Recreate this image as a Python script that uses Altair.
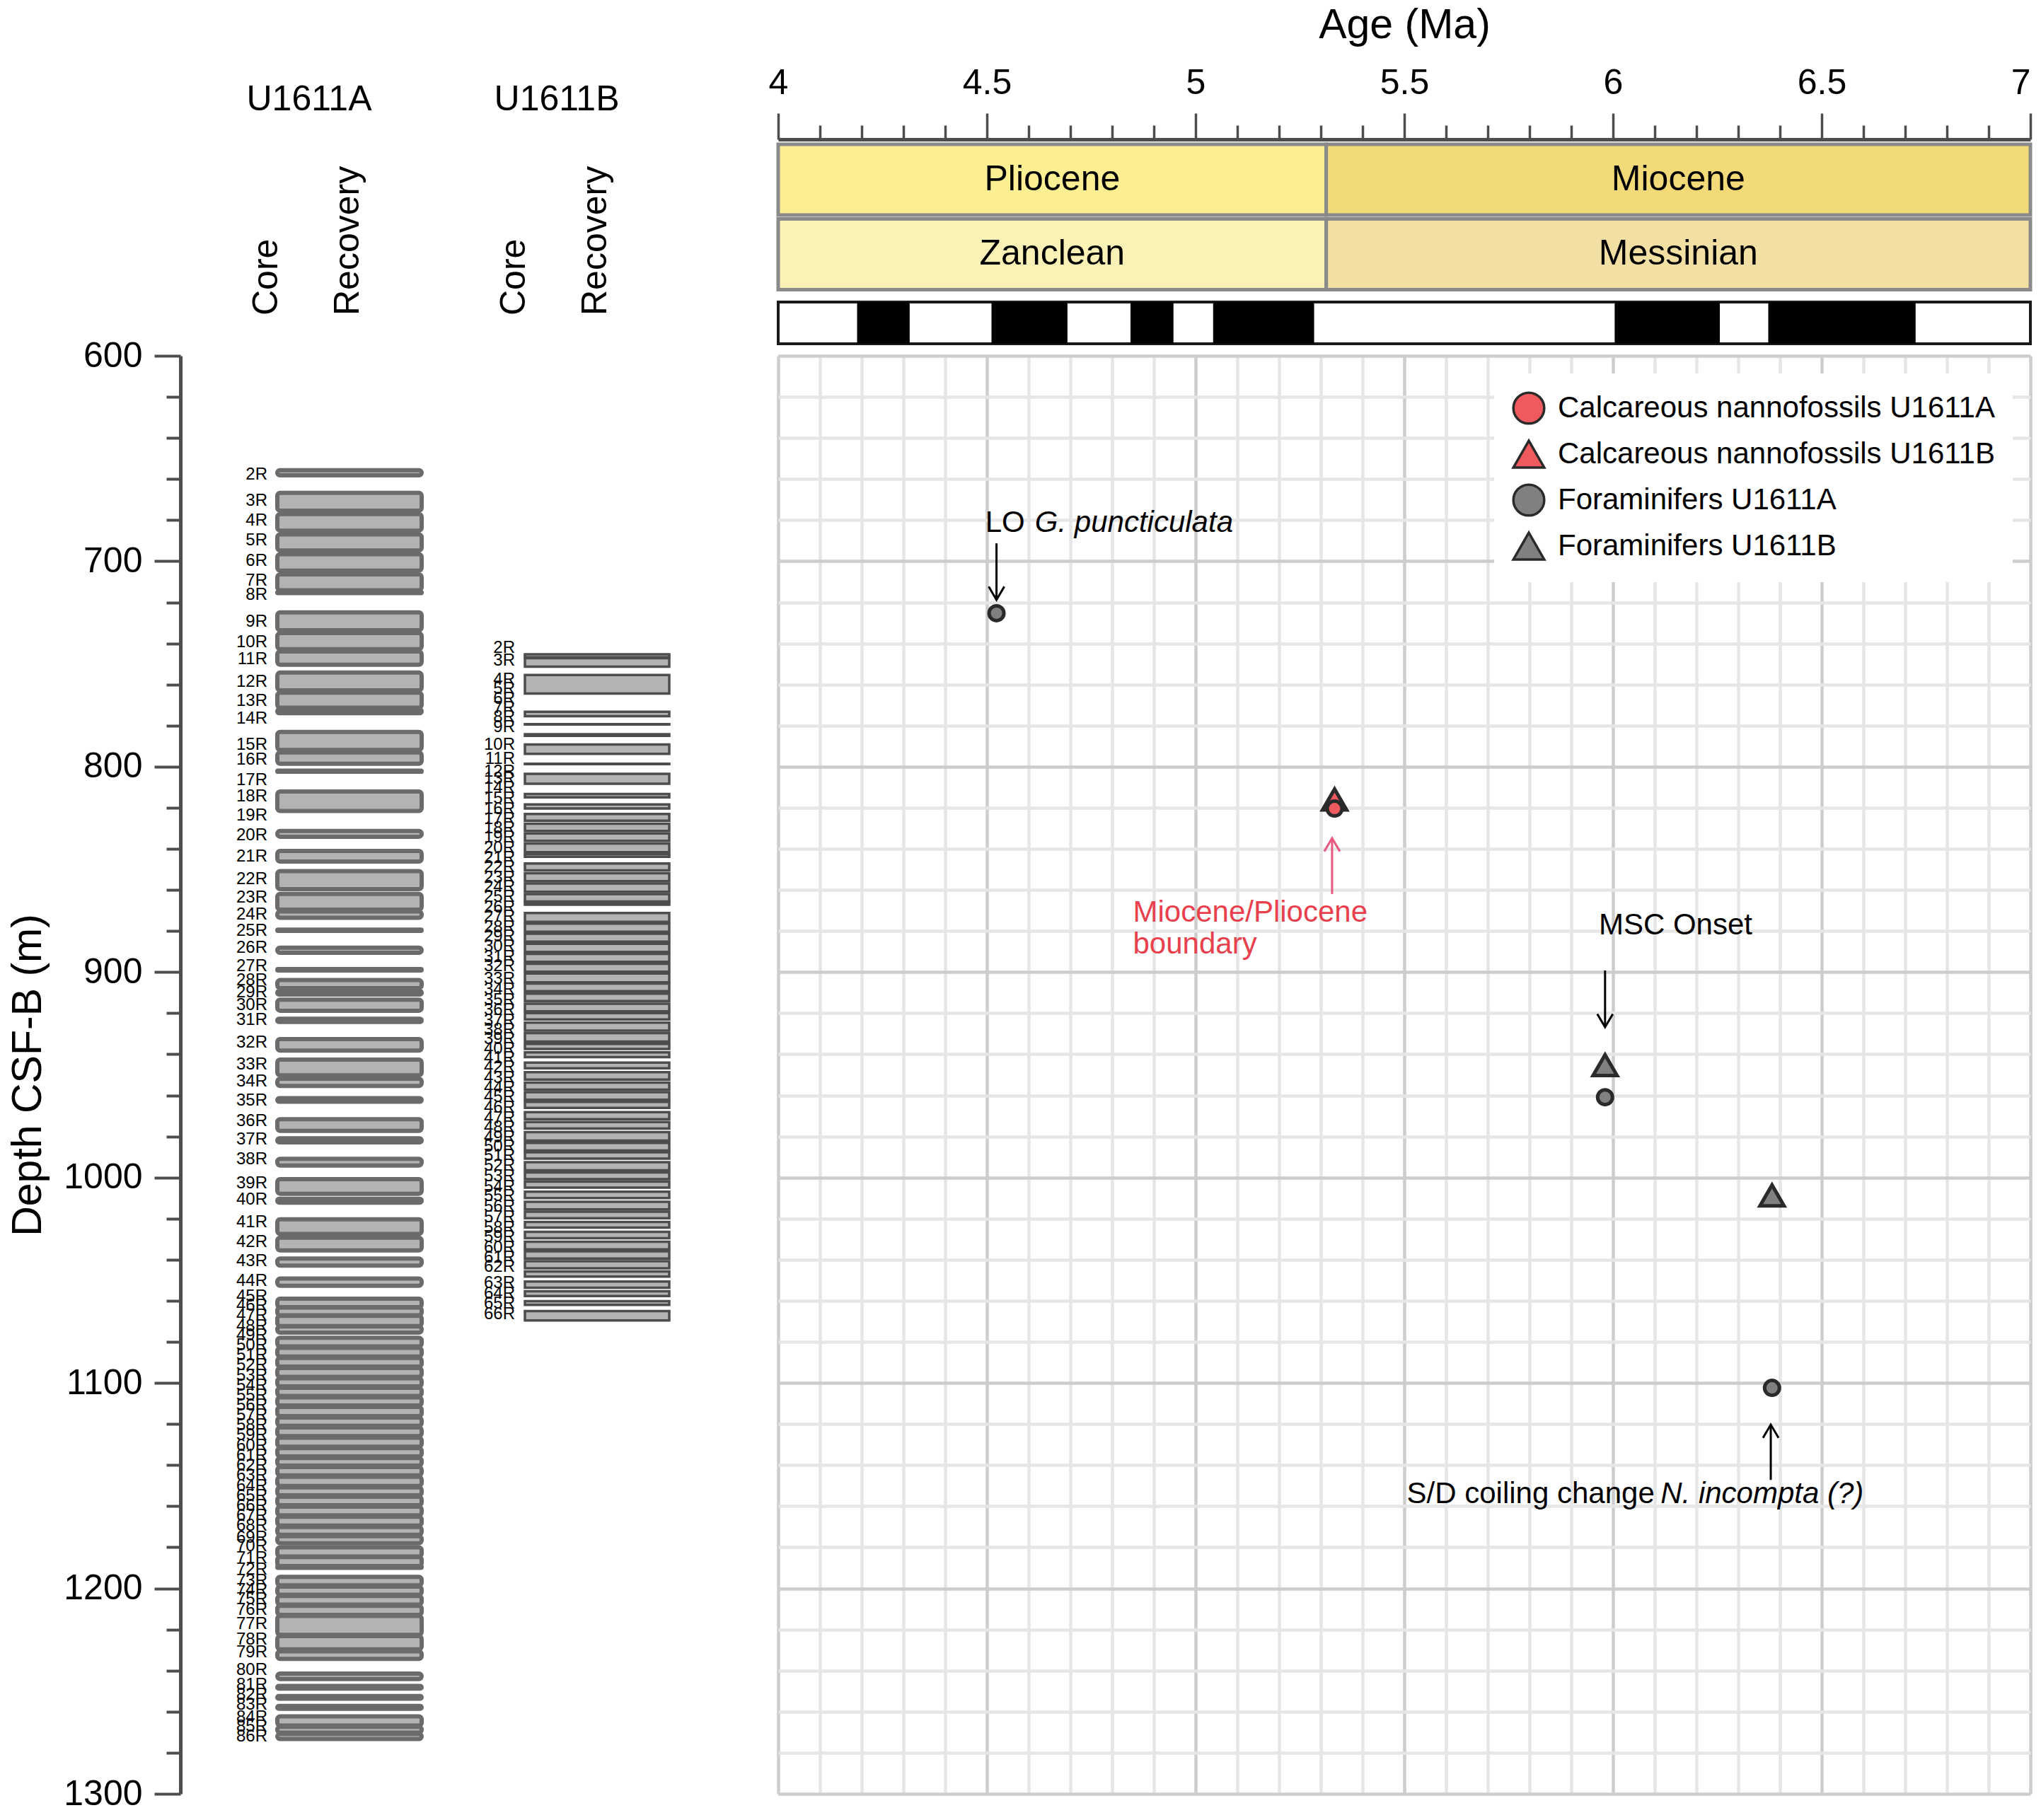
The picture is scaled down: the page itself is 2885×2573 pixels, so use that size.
import altair as alt
import pandas as pd

FONT = "Liberation Sans"

# ---------------- chronostratigraphy (Ma) ----------------
epoch_names = ["Pliocene", "Miocene"]
epoch_start = [4.0, 5.313]
epoch_end = [5.313, 7.0]
stage_names = ["Zanclean", "Messinian"]
stage_start = [4.0, 5.313]
stage_end = [5.313, 7.0]
strat_colors = ["#fcee93", "#f2da78", "#faf1b6", "#f2dfa3"]

# magnetic polarity: normal chrons (black)
chron_start = [4.189, 4.511, 4.844, 5.042, 6.004, 6.372]
chron_end = [4.315, 4.693, 4.947, 5.284, 6.256, 6.725]
record_start = [4.0]
record_end = [7.0]

# ---------------- biostratigraphic datums ----------------
series_names = ["Calcareous nannofossils U1611A", "Calcareous nannofossils U1611B",
                "Foraminifers U1611A", "Foraminifers U1611B"]
series_fill = ["#ef5a5f", "#ef5a5f", "#808080", "#808080"]
series_shape = ["circle", "triangle-up", "circle", "triangle-up"]
series_stroke = ["#2a2a2a", "#2a2a2a", "#2a2a2a", "#2a2a2a"]

pt_series = ["Foraminifers U1611B", "Foraminifers U1611B", "Calcareous nannofossils U1611B",
             "Foraminifers U1611A", "Foraminifers U1611A", "Foraminifers U1611A",
             "Calcareous nannofossils U1611A"]
pt_age = [5.981, 6.381, 5.333, 4.523, 5.981, 6.381, 5.333]
pt_depth = [945.3, 1008.7, 816.0, 725.3, 960.9, 1102.4, 820.4]

# annotations
note_plain = ["LO ", "MSC Onset", "S/D coiling change "]
note_plain_age = [4.496, 5.966, 5.506]
note_plain_depth = [681.3, 877.2, 1154.0]
note_italic = ["G. puncticulata", "N. incompta (?)"]
note_italic_age = [4.615, 6.114]
note_italic_depth = [681.3, 1154.0]
red_note = ["Miocene/Pliocene", "boundary"]
red_note_age = [4.850, 4.850]
red_note_depth = [871.0, 886.5]

arrow_age = [4.523, 5.981, 6.378, 5.327]
arrow_from = [691.3, 899.2, 1147.2, 862.0]
arrow_to = [718.8, 926.8, 1120.3, 834.8]
arrow_dir = ["down", "down", "up", "up"]
arrow_kind = ["black", "black", "black", "red"]

# ---------------- core recovery (m CSF-B) ----------------
a_core = [f"{i}R" for i in range(2, 87)]
a_top = [655.7, 666.7, 677.0, 686.9, 696.6, 706.4, 715.0, 724.9, 735.0, 743.9,
         754.2, 764.0, 772.1, 783.1, 793.1, 801.9, 812.1, None, 831.3, 841.0,
         850.8, 861.9, 870.5, 879.3, 888.1, 898.5, 903.9, 909.2, 913.4, 922.7,
         932.6, 942.6, 951.9, 961.4, 971.6, 980.9, 990.9, 1000.8, 1010.3, 1020.3,
         1029.3, 1039.4, 1049.2, 1059.0, 1063.3, 1067.3, 1072.5, 1078.0, 1082.9, 1087.8,
         1092.7, 1097.7, 1102.4, 1107.0, 1111.7, 1116.8, 1121.6, 1126.6, 1131.7, 1136.5,
         1140.9, 1145.7, 1150.8, 1155.4, 1160.2, 1165.1, 1170.1, 1174.6, 1180.0, 1184.7,
         1189.3, 1194.4, 1199.1, 1203.7, 1208.5, 1213.4, 1223.2, 1230.6, 1241.5, 1247.5,
         1252.4, 1257.2, 1262.3, 1267.4, 1270.8]
a_bot = [658.2, 675.4, 685.1, 694.8, 704.6, 714.1, 715.5, 733.6, 742.8, 750.4,
         762.9, 771.3, 774.0, 791.9, 798.6, 802.5, 821.6, None, 834.1, 846.2,
         859.6, 869.6, 873.6, 879.9, 890.6, 899.2, 907.8, 910.9, 918.8, 924.3,
         938.2, 950.3, 955.4, 963.1, 977.3, 982.9, 994.2, 1007.9, 1012.2, 1027.5,
         1035.5, 1042.9, 1052.7, 1063.1, 1067.1, 1072.3, 1075.5, 1082.2, 1087.1, 1092.0,
         1097.0, 1101.7, 1106.3, 1111.0, 1116.1, 1120.9, 1125.9, 1131.0, 1135.8, 1140.2,
         1145.0, 1150.1, 1154.7, 1159.5, 1164.4, 1169.4, 1173.9, 1178.0, 1184.5, 1189.1,
         1190.0, 1198.5, 1203.1, 1207.9, 1212.9, 1222.6, 1229.7, 1234.3, 1244.1, 1248.8,
         1253.7, 1258.6, 1266.8, 1270.2, 1273.3]
a_lab = [657.9, 670.5, 680.2, 689.8, 699.8, 709.5, 716.4, 729.6, 739.4, 747.7,
         758.9, 768.0, 776.7, 789.3, 796.7, 806.5, 814.5, 823.7, 833.4, 843.8,
         854.7, 863.9, 871.9, 879.9, 888.3, 897.1, 904.0, 909.8, 916.1, 923.2,
         934.2, 945.0, 953.4, 962.6, 972.6, 981.5, 991.3, 1002.8, 1010.9, 1021.8,
         1031.5, 1040.7, 1050.5, 1057.9, 1062.5, 1067.1, 1072.3, 1076.9, 1081.7, 1086.6,
         1091.5, 1096.4, 1101.2, 1106.1, 1111.1, 1115.9, 1120.7, 1125.6, 1130.6, 1135.4,
         1140.2, 1145.1, 1150.1, 1154.9, 1159.7, 1164.7, 1169.6, 1175.5, 1179.6, 1185.3,
         1191.0, 1196.2, 1201.0, 1205.4, 1210.6, 1217.4, 1224.9, 1231.2, 1239.8, 1247.0,
         1251.9, 1256.7, 1262.8, 1267.4, 1272.0]

b_core = [f"{i}R" for i in range(2, 67)]
b_top = [745.3, 747.2, 755.4, None, None, 773.3, 779.3, 784.2, 789.2, 798.6,
         803.5, None, 813.3, 818.4, 823.0, 827.8, 832.5, 837.4, 842.5, 847.1,
         851.9, 856.9, 862.0, 866.0, 871.2, 876.4, 881.3, 886.2, 891.1, 895.9,
         900.7, 905.6, 910.5, 915.4, 920.0, 924.6, 929.7, 934.9, 939.1, 944.1,
         948.7, 953.8, 958.4, 963.2, 968.2, 973.0, 977.9, 983.1, 987.7, 992.5,
         997.5, 1002.0, 1006.9, 1011.8, 1016.6, 1021.6, 1026.4, 1031.3, 1035.9, 1040.7,
         1045.7, 1050.6, 1055.4, 1060.2, 1065.0]
b_bot = [746.8, 751.3, 764.4, None, None, 775.4, 779.5, 785.0, 793.8, 798.8,
         808.3, None, 814.9, 820.4, 826.3, 831.3, 836.1, 841.6, 843.9, 850.5,
         855.7, 860.9, 865.6, 867.2, 875.5, 880.4, 885.2, 890.2, 895.0, 899.8,
         905.0, 909.3, 914.1, 919.1, 923.1, 928.5, 933.8, 937.4, 941.4, 946.8,
         952.3, 957.2, 962.1, 966.1, 971.6, 976.2, 982.0, 986.8, 990.8, 996.5,
         1000.8, 1004.9, 1010.0, 1015.5, 1019.8, 1024.4, 1029.5, 1035.0, 1039.4, 1044.2,
         1048.2, 1053.6, 1057.7, 1062.0, 1069.6]
b_lab = [742.2, 748.5, 757.7, 762.3, 766.9, 771.5, 776.1, 780.7, 789.3, 796.2,
         802.5, 805.9, 810.5, 815.7, 820.8, 825.4, 830.0, 834.6, 839.8, 844.4,
         849.0, 854.1, 858.7, 863.3, 868.5, 873.1, 878.2, 882.8, 887.4, 892.6,
         897.2, 903.4, 908.6, 913.8, 918.4, 923.5, 928.1, 932.7, 937.3, 941.9,
         946.5, 951.7, 956.2, 960.8, 966.0, 971.2, 975.8, 980.4, 985.0, 989.5,
         994.1, 999.3, 1004.5, 1009.1, 1014.2, 1019.4, 1024.5, 1029.1, 1034.3, 1038.9,
         1043.5, 1051.5, 1056.7, 1061.3, 1066.4]

holes = ["U1611A", "U1611B"]

# ---------------- tables ----------------
cores = pd.concat([
    pd.DataFrame({"hole": "U1611A", "core": a_core, "top": a_top, "bot": a_bot, "lab": a_lab}),
    pd.DataFrame({"hole": "U1611B", "core": b_core, "top": b_top, "bot": b_bot, "lab": b_lab}),
], ignore_index=True)
col_heads = pd.DataFrame({"hole": holes})

strat = pd.DataFrame({
    "row": ["Epoch"] * 2 + ["Stage"] * 2,
    "name": epoch_names + stage_names,
    "start": epoch_start + stage_start,
    "end": epoch_end + stage_end,
})
strat["mid"] = (strat["start"] + strat["end"]) / 2
chrons = pd.DataFrame({"start": chron_start, "end": chron_end})
record = pd.DataFrame({"start": record_start, "end": record_end})
points = pd.DataFrame({"series": pt_series, "age": pt_age, "depth": pt_depth})
plain = pd.DataFrame({"t": note_plain, "age": note_plain_age, "depth": note_plain_depth})
italic = pd.DataFrame({"t": note_italic, "age": note_italic_age, "depth": note_italic_depth})
rednote = pd.DataFrame({"t": red_note, "age": red_note_age, "depth": red_note_depth})
arrows = pd.DataFrame({"age": arrow_age, "d0": arrow_from, "d1": arrow_to,
                       "dir": arrow_dir, "kind": arrow_kind})

# ---------------- layout / style ----------------
W_MAIN, H_MAIN = 1770, 2033
W_CORE = 828
H_HEAD, H_POL = 205.5, 59
GAP = 17
AXC = "#4d4d4d"
FS_LAB = 50
FS_TITLE = 59
FS_NOTE = 42

age_ticks = [round(4 + 0.1 * i, 1) for i in range(31)]
depth_ticks = list(range(600, 1301, 20))
major_age = "abs(datum.value*2 - round(datum.value*2)) < 0.001"
major_depth = "datum.value % 100 == 0"

age_scale = alt.Scale(domain=[4, 7], nice=False, zero=False)
depth_scale = alt.Scale(domain=[600, 1300], reverse=True, nice=False, zero=False)

# ---------------- header (age axis, epochs, stages) ----------------
head_y = alt.Y("row:N", scale=alt.Scale(domain=["Epoch", "Stage"], paddingInner=0.0521, paddingOuter=0), axis=None)
top_axis = alt.Axis(
    orient="top", values=age_ticks, title="Age (Ma)", titleFont=FONT, titleFontSize=FS_TITLE,
    titleFontWeight="normal", titleColor="black", titlePadding=27,
    labelFont=FONT, labelFontSize=FS_LAB, labelColor="black", labelPadding=18,
    labelExpr=f"{major_age} ? format(datum.value, '~g') : ''", labelOverlap=False, labelFlush=False,
    labelAlign={"condition": {"test": "datum.value > 6.99", "value": "right"}, "value": "center"},
    tickSize={"condition": {"test": major_age, "value": 37}, "value": 20},
    tickWidth=3.5, tickColor=AXC, domainColor=AXC, domainWidth=5, offset=7, grid=False,
)
head_rect = alt.Chart(strat).mark_rect(stroke="#8a8a8a", strokeWidth=5).encode(
    x=alt.X("start:Q", scale=age_scale, axis=top_axis),
    x2="end:Q",
    y=head_y,
    fill=alt.Fill("name:N", scale=alt.Scale(domain=epoch_names + stage_names, range=strat_colors), legend=None),
)
head_text = alt.Chart(strat).mark_text(font=FONT, fontSize=FS_LAB, color="black", baseline="middle").encode(
    x=alt.X("mid:Q", scale=age_scale, axis=top_axis), y=head_y, text="name:N")
header = alt.layer(head_rect, head_text).properties(width=W_MAIN, height=H_HEAD)

# ---------------- polarity ----------------
pol_box = alt.Chart(record).mark_rect(fill="white", stroke="#1a1a1a", strokeWidth=4).encode(
    x=alt.X("start:Q", scale=age_scale, axis=None), x2="end:Q")
pol_black = alt.Chart(chrons).mark_rect(fill="black").encode(
    x=alt.X("start:Q", scale=age_scale, axis=None), x2="end:Q")
polarity = alt.layer(pol_box, pol_black).properties(width=W_MAIN, height=H_POL)

# ---------------- core recovery panel ----------------
core_x = alt.X("hole:N", scale=alt.Scale(domain=holes, paddingInner=0.4171, paddingOuter=0.3914), axis=None)
depth_axis = alt.Axis(
    values=depth_ticks, title="Depth CSF-B (m)", titleFont=FONT, titleFontSize=FS_TITLE,
    titleFontWeight="normal", titleColor="black", titlePadding=20,
    labelFont=FONT, labelFontSize=FS_LAB, labelColor="black", labelPadding=17,
    labelExpr=f"{major_depth} ? format(datum.value, 'd') : ''", labelOverlap=False, labelFlush=False,
    tickSize={"condition": {"test": major_depth, "value": 37}, "value": 20},
    tickWidth=4, tickColor=AXC, domainColor=AXC, domainWidth=5, grid=False,
)


def core_y(f):
    return alt.Y(f"{f}:Q", scale=depth_scale, axis=depth_axis)


core_base = alt.Chart(cores)
rect_a = core_base.transform_filter("datum.hole == 'U1611A' && isValid(datum.top)").mark_rect(
    fill="#b3b3b3", stroke="#6b6b6b", strokeWidth=6, cornerRadius=4).encode(
    x=core_x, y=core_y("top"), y2="bot:Q")
rect_b = core_base.transform_filter("datum.hole == 'U1611B' && isValid(datum.top)").mark_rect(
    fill="#b3b3b3", stroke="#4d4d4d", strokeWidth=3.5).encode(
    x=core_x, y=core_y("top"), y2="bot:Q")
core_lab = core_base.mark_text(font=FONT, fontSize=24, color="black", align="right",
                               baseline="middle", xOffset=-116).encode(
    x=core_x, y=core_y("lab"), text="core:N")
head_hole = alt.Chart(col_heads).mark_text(font=FONT, fontSize=FS_LAB, color="black",
                                           baseline="middle", xOffset=-57).encode(
    x=core_x, y=alt.value(-362), text="hole:N")
head_core = alt.Chart(col_heads).mark_text(font=FONT, fontSize=FS_LAB, color="black", angle=270,
                                           align="left", baseline="middle", xOffset=-117,
                                           text="Core").encode(x=core_x, y=alt.value(-57))
head_rec = alt.Chart(col_heads).mark_text(font=FONT, fontSize=FS_LAB, color="black", angle=270,
                                          align="left", baseline="middle", xOffset=-2,
                                          text="Recovery").encode(x=core_x, y=alt.value(-57))
core_panel = alt.layer(rect_a, rect_b, core_lab, head_hole, head_core, head_rec).properties(
    width=W_CORE, height=H_MAIN)

# ---------------- main age-depth plot ----------------
grid_x = alt.Axis(values=age_ticks, grid=True, labels=False, ticks=False, domain=False, title=None,
                  gridColor={"condition": {"test": major_age, "value": "#cdcdcd"}, "value": "#e6e6e6"},
                  gridWidth=4.5)
grid_y = alt.Axis(values=depth_ticks, grid=True, labels=False, ticks=False, domain=False, title=None,
                  gridColor={"condition": {"test": major_depth, "value": "#cdcdcd"}, "value": "#e6e6e6"},
                  gridWidth=4.5)
legend = alt.Legend(title=None, orient="top-right", offset=25, fillColor="white", padding=25,
                    labelFont=FONT, labelFontSize=FS_NOTE, labelColor="black", labelLimit=0,
                    symbolSize=1900, symbolStrokeWidth=3.5, symbolStrokeColor="black",
                    rowPadding=10, labelOffset=17, symbolOpacity=1)


def ax(field="age"):
    return alt.X(f"{field}:Q", scale=age_scale, axis=grid_x)


def ay(field):
    return alt.Y(f"{field}:Q", scale=depth_scale, axis=grid_y)


pt_color = alt.Color("series:N", scale=alt.Scale(domain=series_names, range=series_fill), legend=legend)
pt_shape = alt.Shape("series:N", scale=alt.Scale(domain=series_names, range=series_shape), legend=legend)
pt_stroke = alt.Stroke("series:N", scale=alt.Scale(domain=series_names, range=series_stroke), legend=legend)
pts_tri = alt.Chart(points).transform_filter("indexof(datum.series, 'U1611B') >= 0").mark_point(
    filled=True, strokeWidth=5, opacity=1, size=1156).encode(
    x=ax(), y=ay("depth"), color=pt_color, shape=pt_shape, stroke=pt_stroke)
pts_circ = alt.Chart(points).transform_filter("indexof(datum.series, 'U1611A') >= 0").mark_point(
    filled=True, strokeWidth=5, opacity=1, size=441).encode(
    x=ax(), y=ay("depth"), color=pt_color, shape=pt_shape, stroke=pt_stroke)

CHEV_DOWN = "M-1,-1.7L0,0L1,-1.7"
CHEV_UP = "M-1,1.7L0,0L1,1.7"
ARROW_RED = "#e8587f"
arrow_layers = []
for kind, col in [("black", "black"), ("red", ARROW_RED)]:
    base = alt.Chart(arrows).transform_filter(f"datum.kind == '{kind}'")
    arrow_layers.append(base.mark_rule(color=col, strokeWidth=3).encode(x=ax(), y=ay("d0"), y2="d1:Q"))
    for d, path in [("down", CHEV_DOWN), ("up", CHEV_UP)]:
        arrow_layers.append(
            base.transform_filter(f"datum.dir == '{d}'").mark_point(
                shape=path, filled=False, size=484, color=col, strokeWidth=3, opacity=1).encode(
                x=ax(), y=ay("d1")))

txt_plain = alt.Chart(plain).mark_text(font=FONT, fontSize=FS_NOTE, color="black", align="left",
                                       baseline="middle").encode(x=ax(), y=ay("depth"), text="t:N")
txt_italic = alt.Chart(italic).mark_text(font=FONT, fontSize=FS_NOTE, color="black", align="left",
                                         baseline="middle", fontStyle="italic").encode(
    x=ax(), y=ay("depth"), text="t:N")
txt_red = alt.Chart(rednote).mark_text(font=FONT, fontSize=FS_NOTE, color="#e8414d", align="left",
                                       baseline="middle").encode(x=ax(), y=ay("depth"), text="t:N")

main = alt.layer(pts_tri, pts_circ, *arrow_layers, txt_plain, txt_italic, txt_red).properties(
    width=W_MAIN, height=H_MAIN)


def blank(h):
    return alt.Chart(pd.DataFrame({"v": [0]})).mark_point(opacity=0).encode(
        x=alt.value(0), y=alt.value(0)).properties(width=W_CORE, height=h)


chart = alt.concat(
    blank(H_HEAD), header,
    blank(H_POL), polarity,
    core_panel, main,
    columns=2, spacing=GAP,
).resolve_scale(
    color="independent", shape="independent", fill="independent", stroke="independent"
).resolve_legend(
    color="independent", shape="independent", fill="independent", stroke="independent"
).properties(
    bounds="flush", align="each", padding={"left": 2, "top": -2, "right": 0, "bottom": 0}
).configure(font=FONT).configure_view(stroke="transparent", strokeWidth=0)

chart.save("out.html", embed_options={"renderer": "svg", "actions": False})
